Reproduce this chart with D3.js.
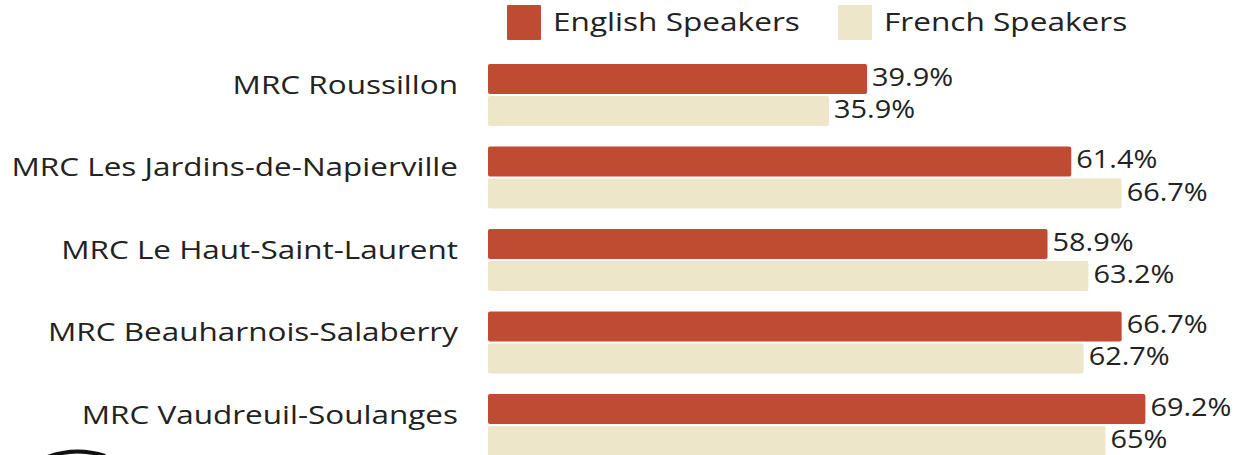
<!DOCTYPE html>
<html><head><meta charset="utf-8">
<script src="https://cdn.jsdelivr.net/npm/d3@7"></script>
<style>
html,body{margin:0;padding:0;background:#fff;}
svg{display:block;font-family:"Open Sans",sans-serif;}
</style></head>
<body><svg id="c" width="1243" height="455"></svg>
<script>
const categories = ["MRC Roussillon","MRC Les Jardins-de-Napierville","MRC Le Haut-Saint-Laurent","MRC Beauharnois-Salaberry","MRC Vaudreuil-Soulanges"];
const seriesNames = ["English Speakers","French Speakers"];
const english = [39.9, 61.4, 58.9, 66.7, 69.2];
const french = [35.9, 66.7, 63.2, 62.7, 65];
const colors = ["#C04B33","#EDE6C9"];

const svg = d3.select("#c");
const x = d3.scaleLinear().domain([0,100]).range([488,1438]);
const y = d3.scaleBand().domain(categories).range([64,456]).paddingInner(0.248).paddingOuter(0);
const ys = d3.scaleBand().domain(seriesNames).range([0,y.bandwidth()]).paddingInner(0.0625);

function widen(sel, k){
  sel.each(function(){
    const w = this.getComputedTextLength();
    d3.select(this).attr("textLength", w*k).attr("lengthAdjust","spacingAndGlyphs");
  });
}

const data = categories.map((c,i)=>({cat:c, vals:[english[i], french[i]]}));

const g = svg.selectAll("g.grp").data(data).join("g").attr("class","grp")
  .attr("transform", d=>`translate(0,${y(d.cat)})`);

g.selectAll("rect").data(d=>d.vals.map((v,j)=>({v, s:seriesNames[j], j})))
  .join("rect")
  .attr("x", x(0)).attr("y", d=>ys(d.s))
  .attr("width", d=>x(d.v)-x(0)).attr("height", ys.bandwidth())
  .attr("rx",2).attr("fill", d=>colors[d.j]);

const vals = g.selectAll("text.val").data(d=>d.vals.map((v,j)=>({v, s:seriesNames[j]})))
  .join("text").attr("class","val")
  .attr("x", d=>x(d.v)+5).attr("y", d=>ys(d.s)+22)
  .attr("font-size",26).attr("fill","#222")
  .text(d=>d.v+"%");
widen(vals, 1.11);

const labs = g.append("text").attr("x",458).attr("y",30)
  .attr("text-anchor","end").attr("font-size",26).attr("fill","#222")
  .text(d=>d.cat);
widen(labs, 1.21);

// legend
const legX = [507, 838];
const lg = svg.selectAll("g.leg").data(seriesNames).join("g").attr("class","leg")
  .attr("transform",(d,i)=>`translate(${legX[i]},5)`);
lg.append("rect").attr("width",34).attr("height",35).attr("rx",1).attr("fill",(d,i)=>colors[i]);
const lt = lg.append("text").attr("x",46).attr("y",26).attr("font-size",26).attr("fill","#222").text(d=>d);
widen(lt, 1.215);

// partial logo at bottom-left
svg.append("path").attr("d","M45,458 Q75,446 105,456").attr("fill","none").attr("stroke","#111").attr("stroke-width",4);
</script></body></html>
